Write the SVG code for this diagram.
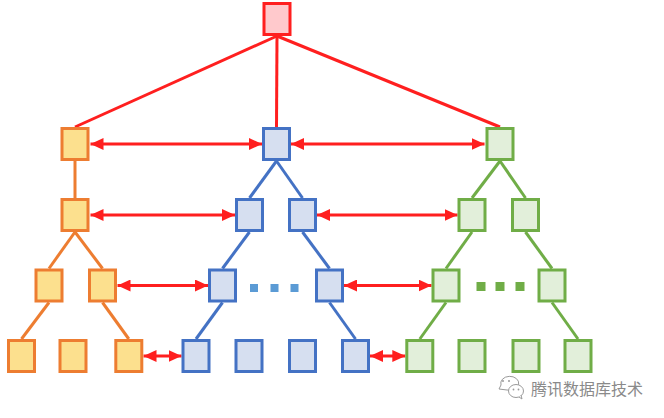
<svg xmlns="http://www.w3.org/2000/svg" width="664" height="418" viewBox="0 0 664 418">
<style>
  rect.n { stroke-width: 3; }
  .root { fill: #FFC9CC; stroke: #FF1F1F; }
  .or { fill: #FCE08E; stroke: #ED7D31; }
  .bl { fill: #D6DFF0; stroke: #4472C4; }
  .gr { fill: #E2EFDA; stroke: #70AD47; }
  line { stroke-width: 3; fill: none; }
  .rl { stroke: #FF1F1F; }
  .ol { stroke: #ED7D31; }
  .bll { stroke: #4472C4; }
  .gl { stroke: #70AD47; }
  .ar { stroke: #FF1F1F; marker-start: url(#ah); marker-end: url(#ah); }
  .wm { font-family: "Noto Sans CJK SC", "Noto Sans", sans-serif; font-size: 16px; fill: #8A8A8A; }
</style>
<defs>
  <marker id="ah" viewBox="0 0 13 12" refX="13" refY="6" markerWidth="13" markerHeight="12" markerUnits="userSpaceOnUse" orient="auto-start-reverse">
    <path d="M0,0 L13,6 L0,12 Z" fill="#FF1F1F"/>
  </marker>
</defs>
<rect width="664" height="418" fill="#FFFFFF"/>

<g id="connectors">
  <!-- root to level 1 -->
  <line class="rl" x1="277" y1="36" x2="75" y2="127"/>
  <line class="rl" x1="277" y1="36" x2="276.5" y2="127"/>
  <line class="rl" x1="277" y1="36" x2="500" y2="127"/>
  <!-- orange tree -->
  <line class="ol" x1="75" y1="161" x2="75" y2="198"/>
  <line class="ol" x1="75" y1="232" x2="49" y2="268.5"/>
  <line class="ol" x1="75" y1="232" x2="102.5" y2="268.5"/>
  <line class="ol" x1="49" y1="302.5" x2="21.5" y2="339"/>
  <line class="ol" x1="102.5" y1="302.5" x2="128.8" y2="339"/>
  <!-- blue tree -->
  <line class="bll" x1="276.5" y1="161" x2="249.5" y2="198"/>
  <line class="bll" x1="276.5" y1="161" x2="302.5" y2="198"/>
  <line class="bll" x1="249.5" y1="232" x2="222.5" y2="268.5"/>
  <line class="bll" x1="302.5" y1="232" x2="329.5" y2="268.5"/>
  <line class="bll" x1="222.5" y1="302.5" x2="196" y2="339"/>
  <line class="bll" x1="329.5" y1="302.5" x2="355.5" y2="339"/>
  <!-- green tree -->
  <line class="gl" x1="500" y1="161" x2="472" y2="198"/>
  <line class="gl" x1="500" y1="161" x2="525.5" y2="198"/>
  <line class="gl" x1="472" y1="232" x2="446" y2="268.5"/>
  <line class="gl" x1="525.5" y1="232" x2="552" y2="268.5"/>
  <line class="gl" x1="446" y1="302.5" x2="419.8" y2="339"/>
  <line class="gl" x1="552" y1="302.5" x2="578" y2="339"/>
  <!-- sibling links -->
  <line class="ar" x1="90.5" y1="144" x2="262" y2="144"/>
  <line class="ar" x1="291" y1="144" x2="484.5" y2="144"/>
  <line class="ar" x1="90.5" y1="215" x2="235" y2="215"/>
  <line class="ar" x1="317" y1="215" x2="457.5" y2="215"/>
  <line class="ar" x1="117.5" y1="285.5" x2="208" y2="285.5"/>
  <line class="ar" x1="344" y1="285.5" x2="431.5" y2="285.5"/>
  <line class="ar" x1="143.5" y1="356" x2="181.5" y2="356"/>
  <line class="ar" x1="370" y1="356" x2="405.3" y2="356"/>
</g>

<g id="root"><rect class="n root" x="264" y="3.5" width="26" height="31"/></g>

<g id="o1"><rect class="n or" x="62" y="128.5" width="26" height="31"/></g>
<g id="b1"><rect class="n bl" x="263.5" y="128.5" width="26" height="31"/></g>
<g id="g1"><rect class="n gr" x="487" y="128.5" width="26" height="31"/></g>

<g id="o2"><rect class="n or" x="62" y="199.5" width="26" height="31"/></g>
<g id="b2a"><rect class="n bl" x="236.5" y="199.5" width="26" height="31"/></g>
<g id="b2b"><rect class="n bl" x="289.5" y="199.5" width="26" height="31"/></g>
<g id="g2a"><rect class="n gr" x="459" y="199.5" width="26" height="31"/></g>
<g id="g2b"><rect class="n gr" x="512.5" y="199.5" width="26" height="31"/></g>

<g id="o3a"><rect class="n or" x="36" y="270" width="26" height="31"/></g>
<g id="o3b"><rect class="n or" x="89.5" y="270" width="26" height="31"/></g>
<g id="b3a"><rect class="n bl" x="209.5" y="270" width="26" height="31"/></g>
<g id="b3dots">
  <rect x="250" y="284" width="8" height="8" fill="#5B9BD5"/>
  <rect x="270.5" y="284" width="8" height="8" fill="#5B9BD5"/>
  <rect x="290.5" y="284" width="8" height="8" fill="#5B9BD5"/>
</g>
<g id="b3b"><rect class="n bl" x="316.5" y="270" width="26" height="31"/></g>
<g id="g3a"><rect class="n gr" x="433" y="270" width="26" height="31"/></g>
<g id="g3dots">
  <rect x="476.5" y="282" width="9" height="9" fill="#70AD47"/>
  <rect x="495.5" y="282" width="9" height="9" fill="#70AD47"/>
  <rect x="515.5" y="282" width="9" height="9" fill="#70AD47"/>
</g>
<g id="g3b"><rect class="n gr" x="539" y="270" width="26" height="31"/></g>

<g id="o4a"><rect class="n or" x="8.5" y="340.5" width="26" height="31"/></g>
<g id="o4b"><rect class="n or" x="60" y="340.5" width="26" height="31"/></g>
<g id="o4c"><rect class="n or" x="115.8" y="340.5" width="26" height="31"/></g>
<g id="b4a"><rect class="n bl" x="183" y="340.5" width="26" height="31"/></g>
<g id="b4b"><rect class="n bl" x="236" y="340.5" width="26" height="31"/></g>
<g id="b4c"><rect class="n bl" x="289.5" y="340.5" width="26" height="31"/></g>
<g id="b4d"><rect class="n bl" x="342.5" y="340.5" width="26" height="31"/></g>
<g id="g4a"><rect class="n gr" x="406.8" y="340.5" width="26" height="31"/></g>
<g id="g4b"><rect class="n gr" x="459" y="340.5" width="26" height="31"/></g>
<g id="g4c"><rect class="n gr" x="513" y="340.5" width="26" height="31"/></g>
<g id="g4d"><rect class="n gr" x="565" y="340.5" width="26" height="31"/></g>

<g id="watermark">
  <g fill="#FFFFFF" stroke="#9A9A9A" stroke-width="1">
    <path d="M499,389 L501,385 A9,7 0 1 1 507,390 Z"/>
    <ellipse cx="516" cy="391" rx="7.5" ry="6.5"/>
    <path d="M519,397 L522,399 L521,395"/>
  </g>
  <circle cx="503" cy="381" r="1" fill="#9A9A9A"/>
  <circle cx="509" cy="381" r="1" fill="#9A9A9A"/>
  <circle cx="513.5" cy="389.5" r="0.9" fill="#9A9A9A"/>
  <circle cx="518.5" cy="389.5" r="0.9" fill="#9A9A9A"/>
  <text class="wm" x="531" y="395">腾讯数据库技术</text>
</g>
</svg>
